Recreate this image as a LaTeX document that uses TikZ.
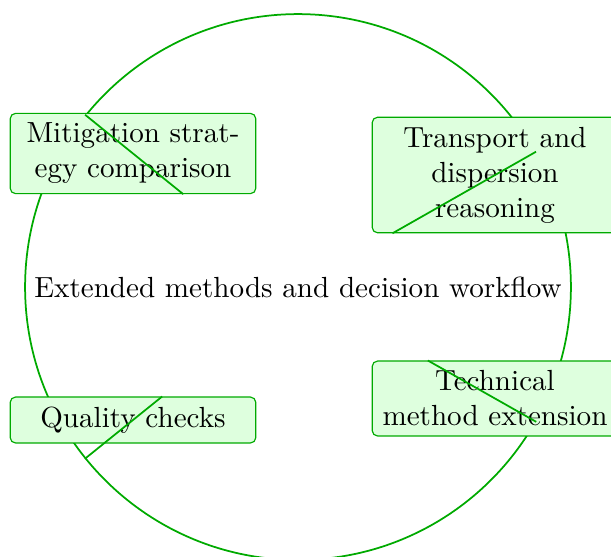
\documentclass[tikz,border=0pt]{standalone}
\definecolor{lc}{RGB}{0,170,0}
\begin{document}
\begin{tikzpicture}[x=0.3435pt,y=-0.3435pt,
  hubnode/.style={circle,draw=lc,semithick,minimum size=187.5pt,inner sep=0pt},
  box/.style={rectangle,draw=lc,fill=green!13,rounded corners=1.8pt,text width=2.73cm,align=center,line width=0.4pt},
  link/.style={draw=lc,semithick}]
\useasboundingbox (0,0) rectangle (611,556);
\clip (0,0) rectangle (611,556);
\node[hubnode] (hub) at (298,287) {Extended methods and decision workflow};
\node[box] (mit) at (133,153.5) {Mitigation strategy comparison};
\node[box] (trans) at (495,175) {Transport and dispersion reasoning};
\node[box] (qual) at (133,420) {Quality checks};
\node[box] (tech) at (495,398.5) {Technical method extension};
\draw[link] (hub) -- (mit);
\draw[link] (hub) -- (trans);
\draw[link] (hub) -- (qual);
\draw[link] (hub) -- (tech);
\end{tikzpicture}
\end{document}
